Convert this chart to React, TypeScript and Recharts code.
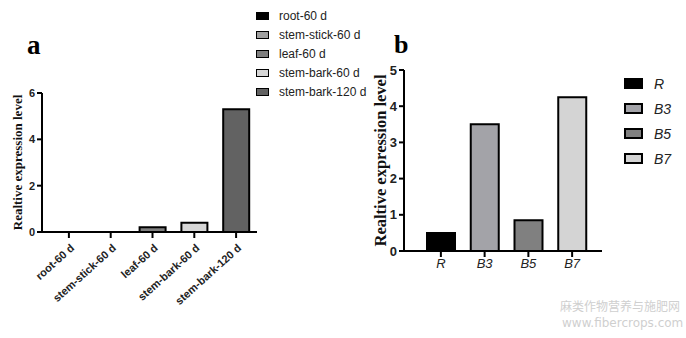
import React from "react";
import { BarChart, Bar, Cell, XAxis, YAxis, Legend } from "recharts";

const tissues = ["root-60 d", "stem-stick-60 d", "leaf-60 d", "stem-bark-60 d", "stem-bark-120 d"];
const tissueValues = [0, 0, 0.2, 0.4, 5.3];
const tissueColors = ["#000000", "#a0a0a0", "#7f7f7f", "#d6d6d6", "#626262"];
const tissueTicks = [0, 2, 4, 6];

const treatments = ["R", "B3", "B5", "B7"];
const treatmentValues = [0.5, 3.5, 0.85, 4.25];
const treatmentColors = ["#000000", "#a3a3a8", "#808080", "#d4d4d4"];
const treatmentTicks = [0, 1, 2, 3, 4, 5];

const dataA = tissues.map((name, i) => ({ name, value: tissueValues[i] }));
const dataB = treatments.map((name, i) => ({ name, value: treatmentValues[i] }));

const sans = "'Liberation Sans', Arial, sans-serif";
const serif = "'Liberation Serif', 'Times New Roman', serif";

function RotatedTick(props: any) {
  const { x, y, payload } = props;
  const ax = x + 6;
  const ay = y + 9;
  return (
    <text
      x={ax}
      y={ay}
      transform={`rotate(-42 ${ax} ${ay})`}
      textAnchor="end"
      fontFamily={sans}
      fontWeight="bold"
      fontSize={11}
      fill="#222"
    >
      {payload.value}
    </text>
  );
}

function LegendA() {
  return (
    <div style={{ fontFamily: sans, fontSize: 12, color: "#222" }}>
      {tissues.map((t, i) => (
        <div key={t} style={{ display: "flex", alignItems: "center", height: 19 }}>
          <span
            style={{
              width: 11,
              height: 6,
              background: tissueColors[i],
              border: "1.5px solid #000",
              marginRight: 10,
            }}
          />
          {t}
        </div>
      ))}
    </div>
  );
}

function LegendB() {
  return (
    <div style={{ fontFamily: sans, fontSize: 14, fontStyle: "italic", color: "#222" }}>
      {treatments.map((t, i) => (
        <div key={t} style={{ display: "flex", alignItems: "center", height: 25 }}>
          <span
            style={{
              width: 15,
              height: 7,
              background: treatmentColors[i],
              border: "2px solid #000",
              marginRight: 11,
            }}
          />
          {t}
        </div>
      ))}
    </div>
  );
}

export default function App() {
  return (
    <div style={{ position: "absolute", left: 0, top: 0, width: 686, height: 338, background: "#fff" }}>
      <div style={{ position: "absolute", left: 0, top: 0 }}>
        <BarChart width={370} height={338} data={dataA} margin={{ top: 93, right: 113, left: 12, bottom: 76 }}>
          <XAxis
            dataKey="name"
            interval={0}
            padding={{ left: 6, right: 0 }}
            axisLine={{ stroke: "#000", strokeWidth: 2 }}
            tickLine={{ stroke: "#000", strokeWidth: 2 }}
            tickSize={6}
            tick={<RotatedTick />}
          />
          <YAxis
            width={30}
            domain={[0, 6]}
            ticks={tissueTicks}
            axisLine={{ stroke: "#000", strokeWidth: 2 }}
            tickLine={{ stroke: "#000", strokeWidth: 2 }}
            tickSize={5}
            tick={{ fill: "#222", fontFamily: sans, fontWeight: "bold", fontSize: 11 }}
            label={{
              value: "Realtive expression level",
              angle: -90,
              position: "insideLeft",
              offset: 5,
              style: { textAnchor: "middle", fontFamily: serif, fontWeight: "bold", fontSize: 13, fill: "#111" },
            }}
          />
          <Legend
            layout="horizontal"
            verticalAlign="middle"
            align="center"
            content={() => <LegendA />}
            wrapperStyle={{ left: 256, top: 6, width: 112, height: 100 }}
          />
          <Bar dataKey="value" barSize={26} stroke="#000" strokeWidth={2} isAnimationActive={false}>
            {dataA.map((d, i) => (
              <Cell key={d.name} fill={tissueColors[i]} />
            ))}
          </Bar>
        </BarChart>
      </div>

      <div style={{ position: "absolute", left: 360, top: 0 }}>
        <BarChart width={326} height={338} data={dataB} margin={{ top: 70, right: 84, left: 4, bottom: 57 }}>
          <XAxis
            dataKey="name"
            interval={0}
            padding={{ left: 15, right: 8 }}
            axisLine={{ stroke: "#000", strokeWidth: 2 }}
            tickLine={{ stroke: "#000", strokeWidth: 2 }}
            tickSize={6}
            tick={{ fill: "#222", fontFamily: sans, fontStyle: "italic", fontSize: 13 }}
          />
          <YAxis
            width={40}
            domain={[0, 5]}
            ticks={treatmentTicks}
            axisLine={{ stroke: "#000", strokeWidth: 2 }}
            tickLine={{ stroke: "#000", strokeWidth: 2 }}
            tickSize={5}
            tick={{ fill: "#222", fontFamily: sans, fontWeight: "bold", fontSize: 13 }}
            label={{
              value: "Realtive expression level",
              angle: -90,
              position: "insideLeft",
              offset: 16,
              style: { textAnchor: "middle", fontFamily: serif, fontWeight: "bold", fontSize: 16.5, fill: "#111" },
            }}
          />
          <Legend
            layout="horizontal"
            verticalAlign="middle"
            align="center"
            content={() => <LegendB />}
            wrapperStyle={{ left: 264, top: 71, width: 60, height: 100 }}
          />
          <Bar dataKey="value" barSize={28} stroke="#000" strokeWidth={2} isAnimationActive={false}>
            {dataB.map((d, i) => (
              <Cell key={d.name} fill={treatmentColors[i]} />
            ))}
          </Bar>
        </BarChart>
      </div>

      <div style={{ position: "absolute", left: 27, top: 30, fontFamily: serif, fontWeight: "bold", fontSize: 27, lineHeight: "30px" }}>a</div>
      <div style={{ position: "absolute", left: 394, top: 30, fontFamily: serif, fontWeight: "bold", fontSize: 26, lineHeight: "30px" }}>b</div>

      <div style={{ position: "absolute", left: 560, top: 298, fontFamily: "'Noto Sans CJK SC', sans-serif", fontSize: 12, color: "#cfcfcf", lineHeight: "16px" }}>
        麻类作物营养与施肥网
      </div>
      <div style={{ position: "absolute", left: 562, top: 315, fontFamily: "'DejaVu Sans', sans-serif", fontSize: 12, color: "#cfcfcf", lineHeight: "16px" }}>
        www.fibercrops.com
      </div>
    </div>
  );
}
